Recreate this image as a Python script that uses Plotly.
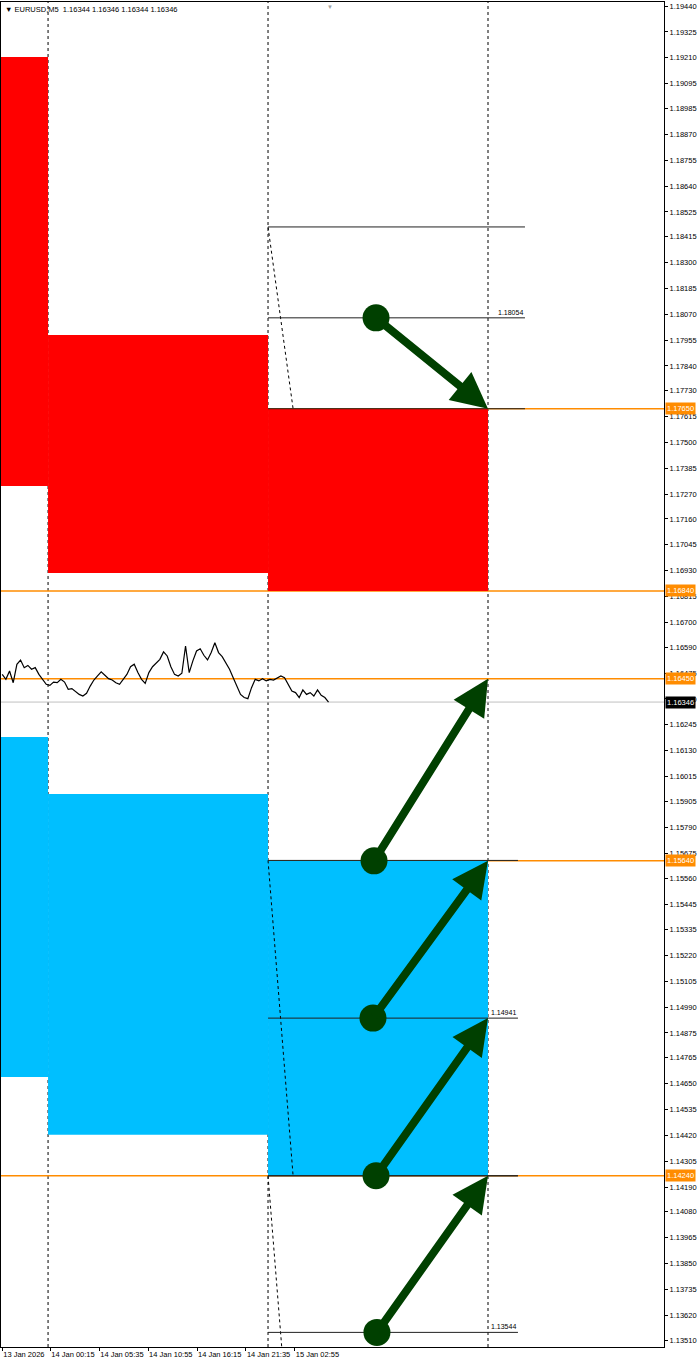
import pandas as pd
import plotly.graph_objects as go

price_start = "2026-01-13 19:00"
close = [1.16469, 1.16447, 1.16484, 1.16432, 1.16514, 1.16533, 1.16499, 1.16509, 1.16492, 1.16499,
         1.16469, 1.16447, 1.16425, 1.16420, 1.16435, 1.16432, 1.16447, 1.16435, 1.16403, 1.16406,
         1.16391, 1.16380, 1.16373, 1.16385, 1.16417, 1.16444, 1.16462, 1.16480, 1.16465, 1.16450,
         1.16444, 1.16432, 1.16425, 1.16447, 1.16469, 1.16503, 1.16514, 1.16477, 1.16447, 1.16429,
         1.16477, 1.16503, 1.16521, 1.16536, 1.16569, 1.16551, 1.16503, 1.16469, 1.16462, 1.16474,
         1.16595, 1.16477, 1.16529, 1.16573, 1.16583, 1.16554, 1.16533, 1.16566, 1.16610, 1.16566,
         1.16548, 1.16521, 1.16492, 1.16454, 1.16414, 1.16380, 1.16366, 1.16361, 1.16410, 1.16447,
         1.16440, 1.16450, 1.16440, 1.16447, 1.16444, 1.16454, 1.16462, 1.16454, 1.16425, 1.16395,
         1.16388, 1.16366, 1.16400, 1.16380, 1.16388, 1.16373, 1.16400, 1.16376, 1.16366, 1.16346]
times = pd.date_range(price_start, periods=len(close), freq="24min")

# right price scale
y_ticks = [1.19440, 1.19325, 1.19210, 1.19095, 1.18985, 1.18870, 1.18755, 1.18640, 1.18525, 1.18415,
           1.18300, 1.18185, 1.18070, 1.17955, 1.17840, 1.17730, 1.17615, 1.17500, 1.17385, 1.17270,
           1.17160, 1.17045, 1.16930, 1.16815, 1.16700, 1.16590, 1.16475, 1.16360, 1.16245, 1.16130,
           1.16015, 1.15905, 1.15790, 1.15675, 1.15560, 1.15445, 1.15335, 1.15220, 1.15105, 1.14990,
           1.14875, 1.14765, 1.14650, 1.14535, 1.14420, 1.14305, 1.14190, 1.14080, 1.13965, 1.13850,
           1.13735, 1.13620, 1.13510]
y_range = [1.13479, 1.19458]

# time scale
x_tick_times = ["2026-01-13 19:00", "2026-01-14 00:15", "2026-01-14 05:35", "2026-01-14 10:55",
                "2026-01-14 16:15", "2026-01-14 21:35", "2026-01-15 02:55"]
x_tick_text = ["13 Jan 2026", "14 Jan 00:15", "14 Jan 05:35", "14 Jan 10:55",
               "14 Jan 16:15", "14 Jan 21:35", "15 Jan 02:55"]
x_range = ["2026-01-13 18:52", "2026-01-16 19:12"]
day_separators = ["2026-01-14 00:00", "2026-01-15 00:00", "2026-01-16 00:00"]

# daily zones
zone_start = ["2026-01-13 18:52", "2026-01-14 00:00", "2026-01-15 00:00"]
zone_end = ["2026-01-14 00:00", "2026-01-15 00:00", "2026-01-16 00:00"]
red_top = [1.19213, 1.17978, 1.17650]
red_bottom = [1.17306, 1.16920, 1.16840]
blue_top = [1.16191, 1.15937, 1.15640]
blue_bottom = [1.14679, 1.14422, 1.14240]

# horizontal levels
orange_levels = [1.17650, 1.16840, 1.16450, 1.15640, 1.14240]
bid = 1.16346

# fibo objects (point 1, point 2)
fib_t1 = "2026-01-15 00:00"
fib_t2 = "2026-01-15 02:44"
fib_p1 = [1.18458, 1.15642, 1.14240]
fib_p2 = [1.17650, 1.14240, 1.12848]
fib_end = ["2026-01-16 04:02", "2026-01-16 03:16", "2026-01-16 03:16"]

# arrows (start -> tip)
arrow_t0 = ["2026-01-15 11:47", "2026-01-15 11:34", "2026-01-15 11:27", "2026-01-15 11:47", "2026-01-15 11:53"]
arrow_p0 = [1.18054, 1.15640, 1.14941, 1.14240, 1.13544]
arrow_t1 = "2026-01-16 00:00"
arrow_p1 = [1.17650, 1.16450, 1.15640, 1.14941, 1.14240]

RED = "#FF0000"
BLUE = "#00BFFF"
ORANGE = "#FF8C00"
GREEN = "#004000"
FONT = "Liberation Sans"

fig = go.Figure()
shapes = []
for i in range(len(zone_start)):
    shapes.append(dict(type="rect", xref="x", yref="y", x0=zone_start[i], x1=zone_end[i],
                       y0=red_bottom[i], y1=red_top[i], fillcolor=RED, line_width=0, layer="below"))
    shapes.append(dict(type="rect", xref="x", yref="y", x0=zone_start[i], x1=zone_end[i],
                       y0=blue_bottom[i], y1=blue_top[i], fillcolor=BLUE, line_width=0, layer="below"))
for t in day_separators:
    shapes.append(dict(type="line", xref="x", yref="paper", x0=t, x1=t, y0=0, y1=1,
                       line=dict(color="#000000", width=1, dash="dot"), layer="below"))
shapes.append(dict(type="line", xref="paper", yref="y", x0=0, x1=1, y0=bid, y1=bid,
                   line=dict(color="#C0C0C0", width=1), layer="below"))
for lv in orange_levels:
    shapes.append(dict(type="line", xref="paper", yref="y", x0=0, x1=1, y0=lv, y1=lv,
                       line=dict(color=ORANGE, width=1.5), layer="below"))

# price
fig.add_trace(go.Scatter(x=times, y=close, mode="lines", line=dict(color="#000000", width=1.2),
                         hoverinfo="skip"))

annotations = []
# fibo baselines and levels
for i in range(len(fib_p1)):
    fig.add_trace(go.Scatter(x=[fib_t1, fib_t2], y=[fib_p1[i], fib_p2[i]], mode="lines",
                             line=dict(color="#000000", width=1, dash="dot"), hoverinfo="skip"))
    mid = (fib_p1[i] + fib_p2[i]) / 2
    for lv in [fib_p1[i], mid, fib_p2[i]]:
        fig.add_trace(go.Scatter(x=[fib_t1, fib_end[i]], y=[lv, lv], mode="lines",
                                 line=dict(color="#202020", width=1), hoverinfo="skip"))
    annotations.append(dict(x=fib_end[i], y=mid, xref="x", yref="y", text=f"{mid:.5f}",
                            showarrow=False, xanchor="right", yanchor="bottom",
                            font=dict(size=7, color="#000000", family=FONT)))

# arrow start dots
fig.add_trace(go.Scatter(x=arrow_t0, y=arrow_p0, mode="markers",
                         marker=dict(size=27, color=GREEN, line_width=0), hoverinfo="skip"))
for i in range(len(arrow_t0)):
    annotations.append(dict(x=arrow_t1, y=arrow_p1[i], ax=arrow_t0[i], ay=arrow_p0[i],
                            xref="x", yref="y", axref="x", ayref="y", text="", showarrow=True,
                            arrowhead=2, arrowsize=0.9, arrowwidth=8, arrowcolor=GREEN, standoff=0))

# price badges on the right scale
for lv in orange_levels:
    annotations.append(dict(x=1, y=lv, xref="paper", yref="y", text=f"{lv:.5f}", showarrow=False,
                            xanchor="left", yanchor="middle", xshift=1, bgcolor=ORANGE, borderpad=1,
                            font=dict(size=7.5, color="#FFFFFF", family=FONT)))
annotations.append(dict(x=1, y=bid, xref="paper", yref="y", text=f"{bid:.5f}", showarrow=False,
                        xanchor="left", yanchor="middle", xshift=1, bgcolor="#000000", borderpad=1,
                        font=dict(size=7.5, color="#FFFFFF", family=FONT)))

# header
annotations.append(dict(x=0, y=1, xref="paper", yref="paper", xanchor="left", yanchor="top",
                        xshift=2, yshift=-1, showarrow=False,
                        text="▼ EURUSD,M5  1.16344 1.16346 1.16344 1.16346",
                        font=dict(size=7.5, color="#000000", family=FONT)))
annotations.append(dict(x="2026-01-15 06:46", y=1, xref="x", yref="paper", xanchor="center",
                        yanchor="top", showarrow=False, text="▼",
                        font=dict(size=6, color="#A0A0A0", family=FONT)))

fig.update_layout(
    width=700, height=1360,
    margin=dict(l=1, r=36, t=2, b=13),
    plot_bgcolor="#FFFFFF", paper_bgcolor="#FFFFFF",
    showlegend=False,
    font=dict(family=FONT, size=7, color="#000000"),
    shapes=shapes,
    annotations=annotations,
)
fig.update_xaxes(type="date", range=x_range, tickvals=x_tick_times, ticktext=x_tick_text,
                 tickangle=0, ticks="outside", ticklen=3, tickcolor="#000000",
                 ticklabelposition="outside right",
                 showline=True, linecolor="#000000", linewidth=1, mirror=True,
                 showgrid=False, zeroline=False, tickfont=dict(size=7.5, family=FONT))
fig.update_yaxes(side="right", range=y_range, tickvals=y_ticks, ticktext=[f"{v:.5f}" for v in y_ticks],
                 ticks="outside", ticklen=3, tickcolor="#000000",
                 showline=True, linecolor="#000000", linewidth=1, mirror=True,
                 showgrid=False, zeroline=False, tickfont=dict(size=7.5, family=FONT))

# page body has an 8px default margin; drop it so the figure sits at the window's corner
fig.write_html("out.html", config={"displayModeBar": False},
               post_script="document.body.style.margin='0';")
